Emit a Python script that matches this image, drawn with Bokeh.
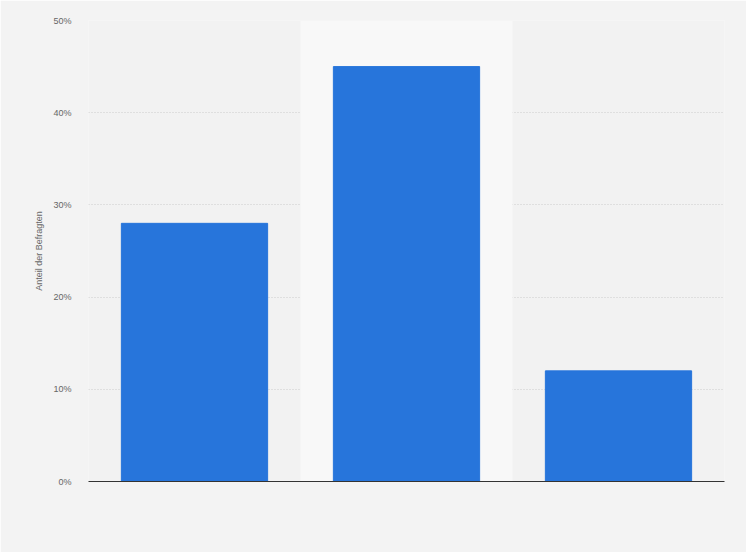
from bokeh.plotting import figure
from bokeh.embed import file_html
from bokeh.resources import INLINE
from bokeh.models import BoxAnnotation, FixedTicker, CustomJSTickFormatter, Range1d

categories = ["Kategorie 1", "Kategorie 2", "Kategorie 3"]
values = [28, 45, 12]
y_ticks = [0, 10, 20, 30, 40, 50]

p = figure(x_range=categories, y_range=Range1d(0, 50), width=746, height=552,
           output_backend="svg", toolbar_location=None,
           min_border_left=88, min_border_right=22, min_border_top=20, min_border_bottom=71)
p.background_fill_color = "#f2f2f2"
p.border_fill_color = "#f3f3f3"
p.outline_line_color = None

p.add_layout(BoxAnnotation(left=1, right=2, fill_color="#f8f8f8", fill_alpha=1, line_color=None, level="underlay"))

p.vbar(x=categories, top=values, width=0.69, color="#2775db")

p.xgrid.grid_line_color = None
p.ygrid.grid_line_color = "#cccccc"
p.ygrid.grid_line_dash = "1 2"
p.ygrid.ticker = FixedTicker(ticks=y_ticks)

p.yaxis.ticker = FixedTicker(ticks=y_ticks)
p.yaxis.formatter = CustomJSTickFormatter(code="return tick + '%';")
p.yaxis.axis_line_color = None
p.yaxis.major_tick_line_color = None
p.yaxis.minor_tick_line_color = None
p.yaxis.major_label_text_font = "Liberation Sans"
p.yaxis.major_label_text_font_size = "9px"
p.yaxis.major_label_text_color = "#666666"
p.yaxis.major_label_standoff = 11
p.yaxis.axis_label = "Anteil der Befragten"
p.yaxis.axis_label_text_font = "Liberation Sans"
p.yaxis.axis_label_text_font_size = "9px"
p.yaxis.axis_label_text_font_style = "normal"
p.yaxis.axis_label_text_color = "#666666"
p.yaxis.axis_label_standoff = 6

p.xaxis.axis_line_color = "#333333"
p.xaxis.axis_line_width = 1.2
p.xaxis.major_tick_line_color = None
p.xaxis.minor_tick_line_color = None
p.xaxis.major_label_text_color = None
p.xaxis.major_label_text_font_size = "1px"

html = file_html(p, INLINE)
html = html.replace("<body>", '<body style="background:#f3f3f3">', 1)
open("out.html", "w").write(html)
